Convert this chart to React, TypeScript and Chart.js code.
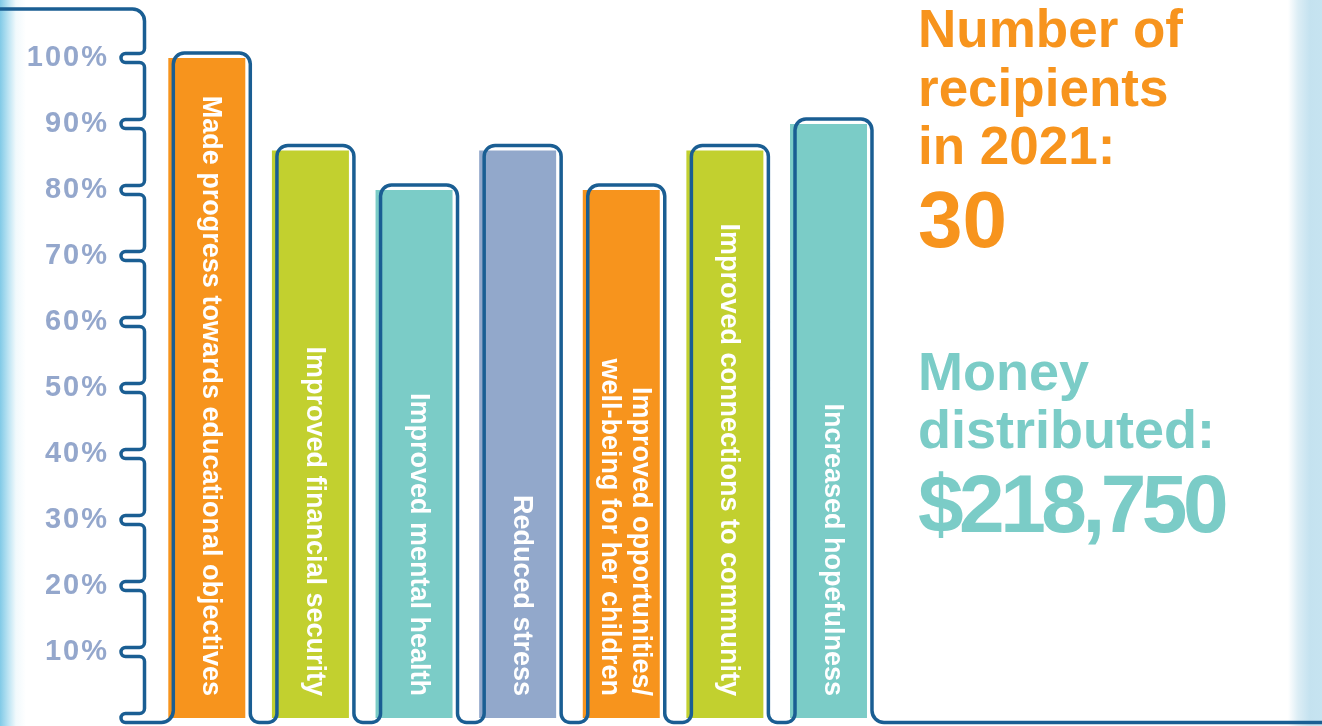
import React, { useEffect, useRef } from 'react';
import { Chart, registerables } from 'chart.js';

Chart.register(...registerables);

// ---------- data ----------
const categories = [
  'Made progress towards educational objectives',
  'Improved financial security',
  'Improved mental health',
  'Reduced stress',
  'Improved opportunities/\nwell-being for her children',
  'Improved connections to community',
  'Increased hopefulness',
];
const percentValues = [100, 86, 80, 86, 80, 86, 90];
const barColors = ['#f7941d', '#c2d02f', '#7bccc7', '#92a8cb', '#f7941d', '#c2d02f', '#7bccc7'];
const tickValues = [10, 20, 30, 40, 50, 60, 70, 80, 90, 100];
const recipientsTitle = ['Number of', 'recipients', 'in 2021:'];
const recipientsCount = '30';
const moneyTitle = ['Money', 'distributed:'];
const moneyAmount = '$218,750';

// ---------- styles ----------
const LINE = '#1a5e93';
const TICK_COLOR = '#94a7cc';
const ORANGE = '#f7941d';
const TEAL = '#7bccc7';
const FONT = '"Liberation Sans", Arial, Helvetica, sans-serif';
const W = 1322;
const H = 726;

const tickSpacingPlugin = {
  id: 'tickSpacing',
  beforeDraw(chart: any) {
    (chart.ctx as any).letterSpacing = '2px';
  },
  beforeDatasetsDraw(chart: any) {
    (chart.ctx as any).letterSpacing = '0px';
  },
};

const outlinePlugin = {
  id: 'outline',
  afterDatasetsDraw(chart: any) {
    const { ctx, chartArea } = chart;
    const yScale = chart.scales.y;
    const meta = chart.getDatasetMeta(0);
    const axisX = chartArea.left - 10.5;
    const nx = chartArea.left - 29.5;
    const h = 4.5;
    const rc = 5;
    const topY = 9;
    const dx = 5;
    const dy = 5;
    const rb = 12;
    const rv = 9;
    const rt = 11;

    ctx.save();
    (ctx as any).letterSpacing = '0px';
    ctx.strokeStyle = LINE;
    ctx.lineWidth = 3.5;
    ctx.lineJoin = 'round';
    ctx.lineCap = 'round';
    ctx.beginPath();
    ctx.moveTo(-5, topY);
    ctx.arcTo(axisX, topY, axisX, topY + 12, 12);

    const desc = [...tickValues].sort((a, b) => b - a);
    for (const v of desc) {
      const ty = yScale.getPixelForValue(v);
      ctx.arcTo(axisX, ty - h, axisX - rc, ty - h, rc);
      ctx.lineTo(nx, ty - h);
      ctx.arc(nx, ty, h, -Math.PI / 2, Math.PI / 2, true);
      ctx.arcTo(axisX, ty + h, axisX, ty + h + rc, rc);
    }
    const ty0 = yScale.getPixelForValue(0);
    ctx.arcTo(axisX, ty0 - h, axisX - rc, ty0 - h, rc);
    ctx.lineTo(nx, ty0 - h);
    ctx.arc(nx, ty0, h, -Math.PI / 2, Math.PI / 2, true);
    const baseY = ty0 + h;

    const bars = meta.data;
    bars.forEach((bar: any, i: number) => {
      const p = bar.getProps(['x', 'y', 'width'], true);
      const ol = p.x - p.width / 2 + dx;
      const orr = p.x + p.width / 2 + dx;
      const ot = p.y - dy;
      const r0 = i === 0 ? rb : rv;
      ctx.arcTo(ol, baseY, ol, baseY - r0, r0);
      ctx.arcTo(ol, ot, ol + rt, ot, rt);
      ctx.arcTo(orr, ot, orr, ot + rt, rt);
      if (i < bars.length - 1) {
        ctx.arcTo(orr, baseY, orr + rv, baseY, rv);
      } else {
        ctx.arcTo(orr, baseY, orr + rb, baseY, rb);
        ctx.lineTo(chart.width + 5, baseY);
      }
    });
    ctx.stroke();
    ctx.restore();
  },
};

const barLabelPlugin = {
  id: 'barLabels',
  afterDatasetsDraw(chart: any) {
    const { ctx } = chart;
    const meta = chart.getDatasetMeta(0);
    ctx.save();
    (ctx as any).letterSpacing = '0px';
    ctx.fillStyle = '#ffffff';
    ctx.font = `bold 27px ${FONT}`;
    ctx.textAlign = 'right';
    ctx.textBaseline = 'middle';
    meta.data.forEach((bar: any, i: number) => {
      const p = bar.getProps(['x', 'base'], true);
      const lines = String(chart.data.labels[i]).split('\n');
      const lh = 31;
      ctx.save();
      ctx.translate(p.x + 4, p.base - 22);
      ctx.rotate(Math.PI / 2);
      lines.forEach((ln, k) => {
        const off = (k - (lines.length - 1) / 2) * lh;
        ctx.fillText(ln, 0, off);
      });
      ctx.restore();
    });
    ctx.restore();
  },
};

export default function App() {
  const ref = useRef<HTMLCanvasElement>(null);

  useEffect(() => {
    const chart = new Chart(ref.current as HTMLCanvasElement, {
      type: 'bar',
      data: {
        labels: categories,
        datasets: [
          {
            data: percentValues,
            backgroundColor: barColors,
            borderWidth: 0,
            barPercentage: 0.743,
            categoryPercentage: 1,
          },
        ],
      },
      options: {
        responsive: false,
        maintainAspectRatio: false,
        animation: false,
        devicePixelRatio: 1,
        layout: { padding: { left: 0, right: 441.7, top: 58, bottom: 8 } },
        plugins: {
          legend: { display: false },
          tooltip: { enabled: false },
        },
        scales: {
          x: { display: false },
          y: {
            min: 0,
            max: 100,
            afterFit: (s: any) => {
              s.width = 155;
              s.paddingTop = 0;
              s.paddingBottom = 0;
            },
            afterBuildTicks: (s: any) => {
              s.ticks = tickValues.map((v) => ({ value: v }));
            },
            grid: { display: false, drawTicks: false },
            border: { display: false },
            ticks: {
              padding: 46,
              color: TICK_COLOR,
              font: { family: FONT, size: 29, weight: 'bold' },
              callback: (v: any) => `${v}%`,
            },
          },
        },
      } as any,
      plugins: [tickSpacingPlugin, outlinePlugin, barLabelPlugin],
    });
    return () => chart.destroy();
  }, []);

  const textBase: React.CSSProperties = {
    position: 'absolute',
    left: 918,
    whiteSpace: 'nowrap',
    fontFamily: FONT,
    fontWeight: 'bold',
  };

  return (
    <div
      style={{
        position: 'fixed',
        left: 0,
        top: 0,
        width: W,
        height: H,
        background: '#ffffff',
        overflow: 'hidden',
      }}
    >
      <div
        style={{
          position: 'absolute',
          left: 0,
          top: 0,
          width: 30,
          height: H,
          background:
            'linear-gradient(to right, rgba(115,196,228,0.9) 0px, rgba(140,208,234,0.6) 8px, rgba(200,232,244,0.25) 16px, rgba(255,255,255,0) 26px)',
        }}
      />
      <div
        style={{
          position: 'absolute',
          right: 0,
          top: 0,
          width: 34,
          height: H,
          background:
            'linear-gradient(to right, rgba(255,255,255,0) 0px, rgba(205,230,241,0.7) 10px, rgba(190,223,238,0.9) 22px, rgba(195,226,240,0.95) 34px)',
        }}
      />
      <canvas
        ref={ref}
        width={W}
        height={H}
        style={{ position: 'absolute', left: 0, top: 0, width: W, height: H, display: 'block' }}
      />
      <div style={{ ...textBase, top: 0.4, color: ORANGE, fontSize: 53, lineHeight: '58.5px' }}>
        {recipientsTitle.map((t) => (
          <div key={t}>{t}</div>
        ))}
      </div>
      <div style={{ ...textBase, top: 180.3, color: ORANGE, fontSize: 80, lineHeight: '80px' }}>
        {recipientsCount}
      </div>
      <div style={{ ...textBase, top: 342.3, color: TEAL, fontSize: 54, lineHeight: '58px' }}>
        {moneyTitle.map((t) => (
          <div key={t}>{t}</div>
        ))}
      </div>
      <div
        style={{
          ...textBase,
          top: 462.6,
          color: TEAL,
          fontSize: 82,
          lineHeight: '82px',
          letterSpacing: '-4.5px',
        }}
      >
        {moneyAmount}
      </div>
    </div>
  );
}
